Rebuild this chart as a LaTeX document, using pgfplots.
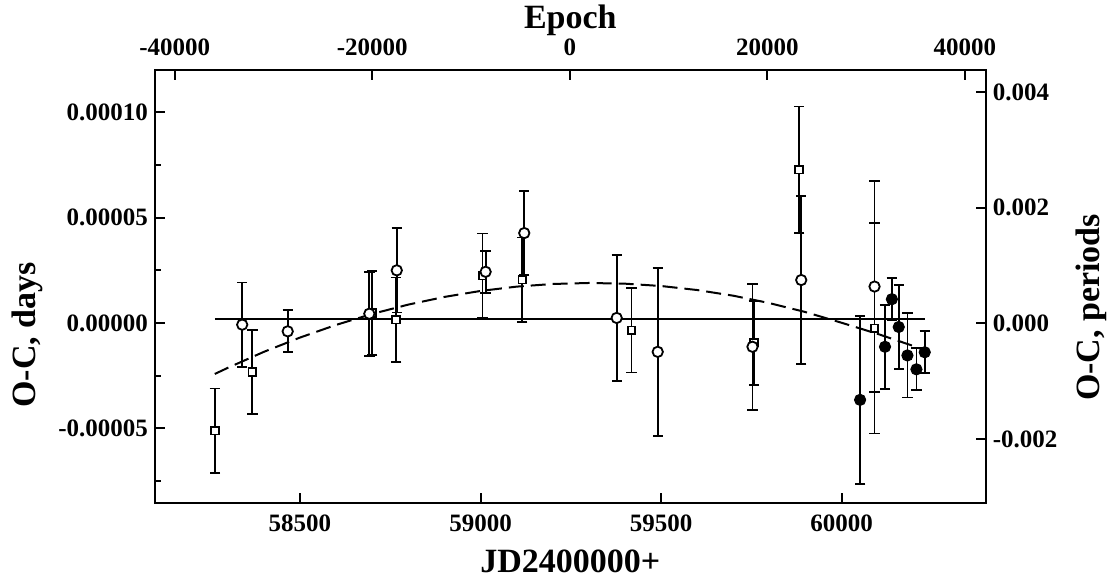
\documentclass[border=0pt]{standalone}
\usepackage{fontspec}
\setmainfont{Liberation Serif}
\usepackage{pgfplots}
\usepackage{pgfplotstable}
\pgfplotsset{compat=1.18}

\pgfplotstableread{
x y e
58264.5 -5.11e-5 2.0e-5
58368 -2.33e-5 2.0e-5
58700 4.7e-6 2.0e-5
58766 1.6e-6 2.0e-5
59005.5 2.25e-5 2.0e-5
59115.5 2.06e-5 2.0e-5
59418 -3.5e-6 2.0e-5
59757 -9.4e-6 2.0e-5
59882 7.28e-5 3.0e-5
60091 -2.5e-6 5.0e-5
}\squares

\pgfplotstableread{
x y e
58340 -0.8e-6 2.0e-5
58466 -3.96e-6 1.0e-5
58692 4.4e-6 2.0e-5
58768 2.5e-5 2.0e-5
59014 2.43e-5 1.0e-5
59121 4.27e-5 2.0e-5
59377 2.4e-6 3.0e-5
59490.6 -1.37e-5 4.0e-5
59753 -1.13e-5 3.0e-5
59888 2.04e-5 4.0e-5
60091 1.73e-5 5.0e-5
}\opencircles

\pgfplotstableread{
x y e
60051 -3.65e-5 4.0e-5
60120 -1.13e-5 2.0e-5
60139 1.13e-5 1.0e-5
60158 -1.9e-6 2.0e-5
60182 -1.54e-5 2.0e-5
60207 -2.2e-5 1.0e-5
60230 -1.39e-5 1.0e-5
}\filled

\pgfplotstableread{
x y
58264 -2.42e-5
58300 -2.13e-5
58400 -1.37e-5
58500 -0.692e-5
58600 -0.09e-5
58700 0.431e-5
58800 0.874e-5
58900 1.238e-5
59000 1.522e-5
59100 1.727e-5
59200 1.853e-5
59300 1.900e-5
59400 1.867e-5
59500 1.756e-5
59600 1.565e-5
59700 1.295e-5
59800 0.945e-5
59900 0.517e-5
60000 0.01e-5
60100 -0.52e-5
60200 -1.10e-5
60230 -1.30e-5
}\fit

\begin{document}
\begin{tikzpicture}
\useasboundingbox (-77.5pt,-39.85pt) rectangle (480pt,251.65pt);
\pgfplotsset{
 every axis title shift=0pt,
 common/.style={
  scale only axis, width=415.35pt, height=216.65pt,
  at={(0,0)}, anchor=south west,
  axis line style={line width=1.1pt, -},
  every tick/.style={line width=1pt, black},
  major tick length=5pt, minor tick length=3pt,
  tick align=inside,
  ticklabel style={font=\fontsize{12.5}{12.5}\selectfont\bfseries},
  label style={font=\fontsize{17}{17}\selectfont\bfseries},
  title style={font=\fontsize{17}{17}\selectfont\bfseries},
  scaled x ticks=false, scaled y ticks=false,
  /pgf/number format/assume math mode=true,
  /pgf/number format/1000 sep={},
 },
 ebar/.style={error bars/.cd, y dir=both, y explicit,
  error bar style={line width=0.9pt, black},
  error mark options={rotate=90, mark size=2.6pt, line width=0.9pt, black}},
}
\begin{axis}[common,
  xmin=-42005, xmax=42116, ymin=-0.003108, ymax=0.004382,
  xtick pos=top, ytick pos=right,
  xticklabel pos=top, yticklabel pos=right,
  xtick={-40000,-20000,0,20000,40000},
  ytick={-0.002,0,0.002,0.004},
  xticklabel style={yshift=3.5pt},
  yticklabel style={/pgf/number format/fixed, /pgf/number format/precision=3, /pgf/number format/zerofill},
  title={Epoch},
  title style={at={(axis description cs:0.5,1.0962)}, anchor=base, yshift=0pt},
  ylabel={O-C, periods},
  ylabel style={at={(axis description cs:1.1276,0.4519)}, anchor=center, rotate=0},
]
\end{axis}
\begin{axis}[common,
  xmin=58098.5, xmax=60398.8, ymin=-8.561e-5, ymax=1.2013e-4,
  xtick pos=bottom, ytick pos=left,
  xtick={58500,59000,59500,60000},
  ytick={-0.00005,0,0.00005,0.0001},
  minor ytick={-0.000075,-0.000025,0.000025,0.000075},
  xticklabel style={yshift=-2.5pt},
  yticklabel style={/pgf/number format/fixed, /pgf/number format/precision=5, /pgf/number format/zerofill},
  xlabel={JD2400000+},
  xlabel style={at={(axis description cs:0.5,-0.1343)}, anchor=center},
  ylabel={O-C, days},
  ylabel style={at={(axis description cs:-0.1535,0.3884)}, anchor=center},
]
\addplot[black, line width=1pt] coordinates {(58264,1.8e-6) (60230,1.8e-6)};
\addplot[black, line width=1pt, dash pattern=on 7.5pt off 3.5pt] table[x=x,y=y] {\fit};
\addplot[black, only marks, mark=square*, mark size=1.9pt,
  mark options={fill=white, draw=black, line width=0.9pt}, ebar]
  table[x=x, y=y, y error=e] {\squares};
\addplot[black, only marks, mark=*, mark size=2.6pt,
  mark options={fill=white, draw=black, line width=0.9pt}, ebar]
  table[x=x, y=y, y error=e] {\opencircles};
\addplot[black, only marks, mark=*, mark size=2.8pt,
  mark options={fill=black, draw=black, line width=0.5pt}, ebar]
  table[x=x, y=y, y error=e] {\filled};
\end{axis}
\end{tikzpicture}
\end{document}
